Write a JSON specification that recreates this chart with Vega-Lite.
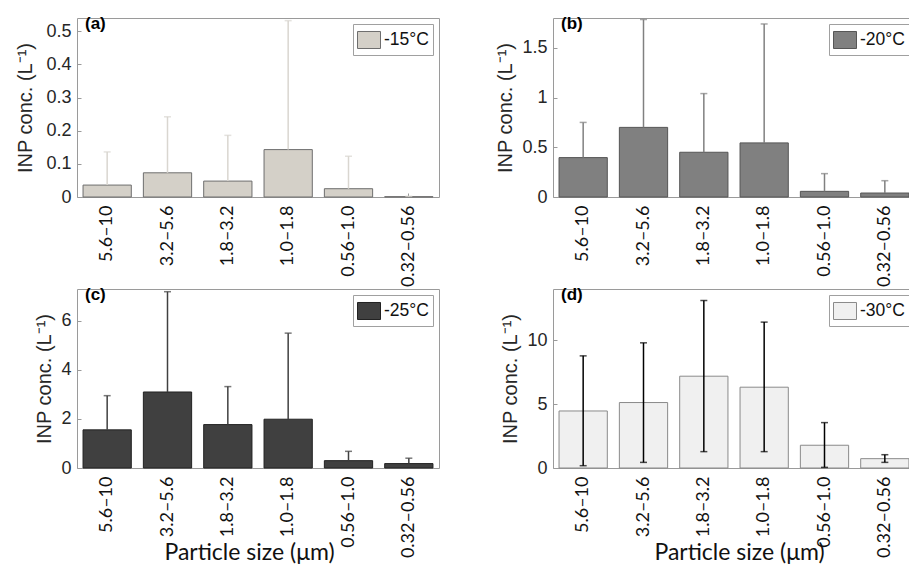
{
  "$schema": "https://vega.github.io/schema/vega-lite/v6.json",
  "background": "white",
  "padding": {"left": 15, "top": 14, "right": 0, "bottom": 0},
  "columns": 2,
  "spacing": {"row": 92, "column": 114},
  "bounds": "flush",
  "resolve": {"scale": {"fill": "independent", "y": "independent", "x": "independent"}, "legend": {"fill": "independent"}, "axis": {"x": "independent", "y": "independent"}},
  "config": {
    "view": {"stroke": "#9a9a9a", "strokeWidth": 1},
    "axis": {"grid": false, "domain": false, "tickColor": "#9a9a9a", "tickSize": -4},
    "axisY": {"labelFont": "Liberation Sans", "labelFontSize": 18, "labelColor": "#262626", "labelPadding": 10, "labelOverlap": false, "titleFont": "Liberation Sans", "titleFontSize": 20, "titleFontWeight": "normal", "titleColor": "#262626", "titlePadding": 10},
    "axisX": {"labelFont": "Lato", "labelFontSize": 18, "labelColor": "#111111", "labelAngle": 270, "labelPadding": 12, "labelOverlap": false, "titleFont": "Lato", "titleFontSize": 23, "titleFontWeight": "normal", "titleColor": "#111111", "titleBaseline": "alphabetic", "titleY": 91},
    "legend": {"orient": "top-right", "offset": 6, "title": null, "symbolType": "M-1,-0.74L1,-0.74L1,0.74L-1,0.74Z", "symbolSize": 529, "symbolStrokeWidth": 1, "labelFont": "Liberation Sans", "labelFontSize": 17.5, "labelColor": "#111111", "labelOffset": 3, "strokeColor": "#a0a0a0", "fillColor": "white", "padding": 4},
    "title": {"anchor": "start", "frame": "group", "offset": 0, "dx": 8, "dy": 19, "baseline": "alphabetic", "fontSize": 17, "fontWeight": "bold", "font": "Liberation Sans", "color": "#000000"}
  },
  "datasets": {
    "a": [
      {"size": "5.6–10", "temp": "-15°C", "value": 0.036, "upper": 0.136},
      {"size": "3.2–5.6", "temp": "-15°C", "value": 0.073, "upper": 0.242},
      {"size": "1.8–3.2", "temp": "-15°C", "value": 0.048, "upper": 0.186},
      {"size": "1.0–1.8", "temp": "-15°C", "value": 0.143, "upper": 0.532},
      {"size": "0.56–1.0", "temp": "-15°C", "value": 0.025, "upper": 0.123},
      {"size": "0.32–0.56", "temp": "-15°C", "value": 0.001, "upper": 0.002}
    ],
    "b": [
      {"size": "5.6–10", "temp": "-20°C", "value": 0.396, "upper": 0.75},
      {"size": "3.2–5.6", "temp": "-20°C", "value": 0.70, "upper": 1.785},
      {"size": "1.8–3.2", "temp": "-20°C", "value": 0.45, "upper": 1.04},
      {"size": "1.0–1.8", "temp": "-20°C", "value": 0.544, "upper": 1.74},
      {"size": "0.56–1.0", "temp": "-20°C", "value": 0.057, "upper": 0.235},
      {"size": "0.32–0.56", "temp": "-20°C", "value": 0.04, "upper": 0.164}
    ],
    "c": [
      {"size": "5.6–10", "temp": "-25°C", "value": 1.555, "upper": 2.95},
      {"size": "3.2–5.6", "temp": "-25°C", "value": 3.10, "upper": 7.19},
      {"size": "1.8–3.2", "temp": "-25°C", "value": 1.77, "upper": 3.32},
      {"size": "1.0–1.8", "temp": "-25°C", "value": 1.99, "upper": 5.50},
      {"size": "0.56–1.0", "temp": "-25°C", "value": 0.30, "upper": 0.68},
      {"size": "0.32–0.56", "temp": "-25°C", "value": 0.18, "upper": 0.40}
    ],
    "d": [
      {"size": "5.6–10", "temp": "-30°C", "value": 4.46, "lower": 0.18, "upper": 8.77},
      {"size": "3.2–5.6", "temp": "-30°C", "value": 5.12, "lower": 0.44, "upper": 9.79},
      {"size": "1.8–3.2", "temp": "-30°C", "value": 7.18, "lower": 1.28, "upper": 13.1},
      {"size": "1.0–1.8", "temp": "-30°C", "value": 6.32, "lower": 1.28, "upper": 11.41},
      {"size": "0.56–1.0", "temp": "-30°C", "value": 1.78, "lower": 0.05, "upper": 3.55},
      {"size": "0.32–0.56", "temp": "-30°C", "value": 0.73, "lower": 0.44, "upper": 1.04}
    ]
  },
  "concat": [
    {
      "width": 362, "height": 179,
      "data": {"name": "a"},
      "title": {"text": "(a)"},
      "encoding": {
        "x": {"field": "size", "type": "nominal", "title": null, "scale": {"domain": ["5.6–10", "3.2–5.6", "1.8–3.2", "1.0–1.8", "0.56–1.0", "0.32–0.56"], "paddingInner": 0.2, "paddingOuter": 0.1}}
      },
      "layer": [
        {
          "mark": {"type": "bar", "stroke": "#6e6e6e", "strokeWidth": 1},
          "encoding": {
            "y": {"field": "value", "type": "quantitative", "title": "INP conc. (L⁻¹)", "scale": {"domain": [0, 0.54], "nice": false}, "axis": {"values": [0, 0.1, 0.2, 0.3, 0.4, 0.5], "tickCount": 6, "format": "~g"}},
            "fill": {"field": "temp", "type": "nominal", "scale": {"range": ["#d4d0c8"]}, "legend": {"symbolStrokeColor": "#6e6e6e"}}
          }
        },
        {
          "mark": {"type": "rule", "color": "#d9d6d0", "strokeWidth": 1.5},
          "encoding": {"y": {"field": "value", "type": "quantitative", "title": "INP conc. (L⁻¹)", "axis": {"values": [0, 0.1, 0.2, 0.3, 0.4, 0.5], "tickCount": 6, "format": "~g"}}, "y2": {"field": "upper"}}
        },
        {
          "mark": {"type": "tick", "color": "#d9d6d0", "size": 7, "thickness": 1.5},
          "encoding": {"y": {"field": "upper", "type": "quantitative", "title": "INP conc. (L⁻¹)", "axis": {"values": [0, 0.1, 0.2, 0.3, 0.4, 0.5], "tickCount": 6, "format": "~g"}}}
        }
      ]
    },
    {
      "width": 362, "height": 179,
      "data": {"name": "b"},
      "title": {"text": "(b)"},
      "encoding": {
        "x": {"field": "size", "type": "nominal", "title": null, "scale": {"domain": ["5.6–10", "3.2–5.6", "1.8–3.2", "1.0–1.8", "0.56–1.0", "0.32–0.56"], "paddingInner": 0.2, "paddingOuter": 0.1}}
      },
      "layer": [
        {
          "mark": {"type": "bar", "stroke": "#555555", "strokeWidth": 1},
          "encoding": {
            "y": {"field": "value", "type": "quantitative", "title": "INP conc. (L⁻¹)", "scale": {"domain": [0, 1.8], "nice": false}, "axis": {"values": [0, 0.5, 1, 1.5], "format": "~g", "titlePadding": 6}},
            "fill": {"field": "temp", "type": "nominal", "scale": {"range": ["#808080"]}, "legend": {"symbolStrokeColor": "#555555"}}
          }
        },
        {
          "mark": {"type": "rule", "color": "#808080", "strokeWidth": 1.5},
          "encoding": {"y": {"field": "value", "type": "quantitative", "title": "INP conc. (L⁻¹)"}, "y2": {"field": "upper"}}
        },
        {
          "mark": {"type": "tick", "color": "#808080", "size": 7, "thickness": 1.5},
          "encoding": {"y": {"field": "upper", "type": "quantitative", "title": "INP conc. (L⁻¹)"}}
        }
      ]
    },
    {
      "width": 362, "height": 179,
      "data": {"name": "c"},
      "title": {"text": "(c)"},
      "encoding": {
        "x": {"field": "size", "type": "nominal", "title": "Particle size (μm)", "axis": {"titleX": 172}, "scale": {"domain": ["5.6–10", "3.2–5.6", "1.8–3.2", "1.0–1.8", "0.56–1.0", "0.32–0.56"], "paddingInner": 0.2, "paddingOuter": 0.1}}
      },
      "layer": [
        {
          "mark": {"type": "bar", "stroke": "#222222", "strokeWidth": 1},
          "encoding": {
            "y": {"field": "value", "type": "quantitative", "title": "INP conc. (L⁻¹)", "scale": {"domain": [0, 7.3], "nice": false}, "axis": {"values": [0, 2, 4, 6], "format": "~g", "titlePadding": 6}},
            "fill": {"field": "temp", "type": "nominal", "scale": {"range": ["#404040"]}, "legend": {"symbolStrokeColor": "#222222"}}
          }
        },
        {
          "mark": {"type": "rule", "color": "#404040", "strokeWidth": 1.5},
          "encoding": {"y": {"field": "value", "type": "quantitative", "title": "INP conc. (L⁻¹)"}, "y2": {"field": "upper"}}
        },
        {
          "mark": {"type": "tick", "color": "#404040", "size": 7, "thickness": 1.5},
          "encoding": {"y": {"field": "upper", "type": "quantitative", "title": "INP conc. (L⁻¹)"}}
        }
      ]
    },
    {
      "width": 362, "height": 179,
      "data": {"name": "d"},
      "title": {"text": "(d)"},
      "encoding": {
        "x": {"field": "size", "type": "nominal", "title": "Particle size (μm)", "axis": {"titleX": 186}, "scale": {"domain": ["5.6–10", "3.2–5.6", "1.8–3.2", "1.0–1.8", "0.56–1.0", "0.32–0.56"], "paddingInner": 0.2, "paddingOuter": 0.1}}
      },
      "layer": [
        {
          "mark": {"type": "bar", "stroke": "#8a8a8a", "strokeWidth": 1},
          "encoding": {
            "y": {"field": "value", "type": "quantitative", "title": "INP conc. (L⁻¹)", "scale": {"domain": [0, 14], "nice": false}, "axis": {"values": [0, 5, 10], "format": "~g", "titlePadding": 6}},
            "fill": {"field": "temp", "type": "nominal", "scale": {"range": ["#f0f0f0"]}, "legend": {"symbolStrokeColor": "#8a8a8a"}}
          }
        },
        {
          "mark": {"type": "rule", "color": "#000000", "strokeWidth": 1.5},
          "encoding": {"y": {"field": "lower", "type": "quantitative", "title": "INP conc. (L⁻¹)"}, "y2": {"field": "upper"}}
        },
        {
          "mark": {"type": "tick", "color": "#000000", "size": 7, "thickness": 1.5},
          "encoding": {"y": {"field": "upper", "type": "quantitative", "title": "INP conc. (L⁻¹)"}}
        },
        {
          "mark": {"type": "tick", "color": "#000000", "size": 7, "thickness": 1.5},
          "encoding": {"y": {"field": "lower", "type": "quantitative", "title": "INP conc. (L⁻¹)"}}
        }
      ]
    }
  ]
}
